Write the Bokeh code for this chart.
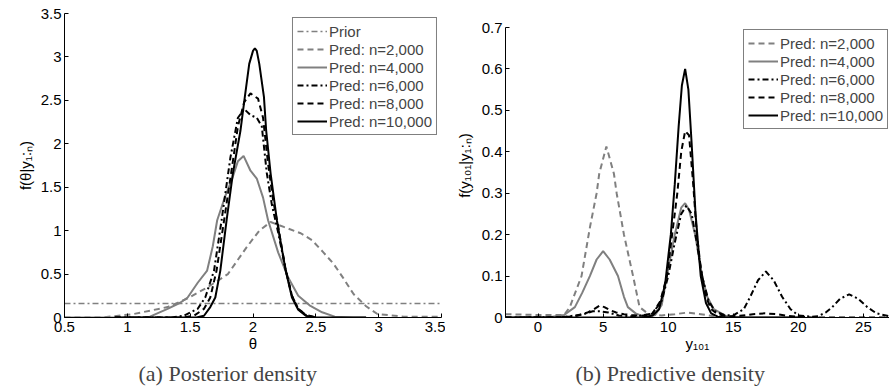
from bokeh.plotting import figure
from bokeh.models import FixedTicker, Title
from bokeh.layouts import row
from bokeh.embed import file_html
from bokeh.resources import INLINE

GRAY = "#808080"
FONT = "Liberation Sans"

# ---------------- Panel (a): posterior density ----------------
a_xticks = [0.5, 1, 1.5, 2, 2.5, 3, 3.5]
a_xlabels = ["0.5", "1", "1.5", "2", "2.5", "3", "3.5"]
a_yticks = [0, 0.5, 1, 1.5, 2, 2.5, 3, 3.5]
a_ylabels = ["0", "0.5", "1", "1.5", "2", "2.5", "3", "3.5"]

prior_theta = [0.5, 3.5]
prior_dens = [0.16, 0.16]

post2_theta = [0.5, 0.8, 1.05, 1.32, 1.48, 1.64, 1.8, 1.95, 2.05, 2.14, 2.25, 2.38, 2.47, 2.56, 2.64, 2.72, 2.8, 2.9, 2.99, 3.2, 3.5]
post2_dens = [0, 0, 0.04, 0.12, 0.22, 0.35, 0.5, 0.81, 1.0, 1.1, 1.04, 0.97, 0.89, 0.75, 0.62, 0.45, 0.27, 0.13, 0.04, 0.01, 0.01]

post4_theta = [0.5, 1.1, 1.18, 1.32, 1.42, 1.48, 1.56, 1.635, 1.68, 1.715, 1.78, 1.835, 1.88, 1.925, 1.98, 2.03, 2.08, 2.12, 2.2, 2.28, 2.36, 2.45, 2.55, 2.65, 2.8, 2.9]
post4_dens = [0, 0, 0.01, 0.1, 0.17, 0.23, 0.4, 0.54, 0.82, 1.12, 1.4, 1.6, 1.8, 1.86, 1.69, 1.6, 1.38, 1.12, 0.75, 0.46, 0.25, 0.14, 0.06, 0.01, 0, 0]

post6_theta = [0.9, 1.35, 1.45, 1.56, 1.62, 1.69, 1.75, 1.82, 1.88, 1.93, 1.98, 2.03, 2.07, 2.11, 2.15, 2.2, 2.26, 2.31, 2.36, 2.42, 2.5]
post6_dens = [0, 0, 0.02, 0.1, 0.23, 0.54, 1.12, 1.84, 2.3, 2.4, 2.33, 2.3, 2.2, 1.66, 1.3, 0.98, 0.55, 0.25, 0.1, 0.03, 0]

post8_theta = [0.9, 1.45, 1.53, 1.61, 1.66, 1.71, 1.77, 1.83, 1.88, 1.93, 1.98, 2.04, 2.08, 2.12, 2.16, 2.2, 2.26, 2.31, 2.36, 2.42, 2.5]
post8_dens = [0, 0, 0.02, 0.1, 0.23, 0.54, 1.12, 1.7, 2.2, 2.48, 2.58, 2.52, 2.3, 1.77, 1.35, 1.05, 0.55, 0.25, 0.1, 0.03, 0]

post10_theta = [0.9, 1.55, 1.61, 1.66, 1.7, 1.74, 1.79, 1.84, 1.9, 1.935, 1.97, 2.0, 2.015, 2.03, 2.05, 2.087, 2.105, 2.14, 2.19, 2.26, 2.31, 2.36, 2.42, 2.48, 2.9]
post10_dens = [0, 0, 0.02, 0.12, 0.23, 0.54, 1.12, 1.66, 2.15, 2.54, 2.92, 3.07, 3.1, 3.07, 2.92, 2.54, 2.15, 1.66, 1.12, 0.54, 0.23, 0.09, 0.02, 0, 0]

# ---------------- Panel (b): predictive density ----------------
b_xticks = [0, 5, 10, 15, 20, 25]
b_xlabels = ["0", "5", "10", "15", "20", "25"]
b_yticks = [0, 0.1, 0.2, 0.3, 0.4, 0.5, 0.6, 0.7]
b_ylabels = ["0", "0.1", "0.2", "0.3", "0.4", "0.5", "0.6", "0.7"]

pred2_y = [-2.5, 0, 2, 2.44, 3.34, 4.0, 4.5, 4.7, 5.25, 5.83, 6.04, 6.6, 7.3, 7.8, 8.5, 9.5, 10.5, 11.5, 12.5, 13.5, 14.5, 16]
pred2_f = [0.008, 0.006, 0.006, 0.025, 0.1, 0.22, 0.3, 0.347, 0.413, 0.347, 0.3, 0.2, 0.1, 0.025, 0.008, 0.005, 0.008, 0.012, 0.008, 0.003, 0, 0]

pred4_y = [-2.5, 1, 2, 2.83, 3.4, 3.98, 4.5, 5.0, 5.5, 6.14, 6.6, 6.9, 7.5, 8.0, 8.5, 9.0, 9.5, 9.9, 10.5, 11.0, 11.3, 11.6, 12.07, 12.6, 13.0, 13.5, 14.5, 16, 20]
pred4_f = [0, 0.001, 0.006, 0.025, 0.06, 0.1, 0.14, 0.16, 0.14, 0.1, 0.05, 0.025, 0.01, 0.004, 0.002, 0.006, 0.03, 0.1, 0.2, 0.265, 0.276, 0.26, 0.2, 0.1, 0.05, 0.02, 0.003, 0, 0]

pred6_y = [-2.5, 2, 3.5, 4.2, 4.8, 5.4, 6.2, 7.5, 8.8, 9.5, 10.0, 10.5, 11.0, 11.4, 11.8, 12.2, 12.6, 13.1, 13.6, 14.3, 15.0, 15.8, 16.3, 16.9, 17.5, 18.1, 18.75, 19.4, 20, 21, 21.5, 22.1, 22.6, 23.2, 23.9, 24.6, 25.3, 26, 27]
pred6_f = [0, 0.001, 0.008, 0.015, 0.015, 0.012, 0.005, 0.002, 0.01, 0.04, 0.1, 0.18, 0.25, 0.27, 0.25, 0.18, 0.1, 0.04, 0.015, 0.006, 0.005, 0.02, 0.05, 0.09, 0.111, 0.09, 0.05, 0.02, 0.005, 0.002, 0.003, 0.012, 0.025, 0.045, 0.056, 0.045, 0.025, 0.01, 0.003]

pred8_y = [-2.5, 2, 3, 3.8, 4.3, 4.75, 5.1, 5.5, 6.0, 6.6, 7.2, 8.0, 8.8, 9.4, 9.9, 10.3, 10.7, 11.0, 11.3, 11.6, 11.9, 12.2, 12.5, 12.9, 13.3, 13.8, 14.5, 15.5, 16.5, 17.45, 18.3, 19.2, 20, 21, 27]
pred8_f = [0, 0.001, 0.004, 0.012, 0.02, 0.029, 0.025, 0.018, 0.012, 0.008, 0.006, 0.004, 0.01, 0.04, 0.1, 0.2, 0.3, 0.4, 0.45, 0.44, 0.33, 0.2, 0.12, 0.05, 0.02, 0.008, 0.003, 0.004, 0.008, 0.01, 0.008, 0.004, 0.002, 0, 0]

pred10_y = [-2.5, 8.0, 8.8, 9.3, 9.76, 10.2, 10.5, 10.8, 11.05, 11.3, 11.55, 11.8, 12.1, 12.5, 12.9, 13.3, 13.8, 14.5, 20]
pred10_f = [0, 0, 0.005, 0.02, 0.08, 0.2, 0.32, 0.46, 0.56, 0.6, 0.55, 0.42, 0.25, 0.1, 0.035, 0.01, 0.002, 0, 0]

DASH = "6 4"
DASHDOT = "6 3 2 3"


def style(p, xticks, xlabels, yticks, ylabels, xlabel, ylabel, ylabel_standoff):
    p.xaxis.ticker = FixedTicker(ticks=xticks)
    p.xaxis.major_label_overrides = dict(zip(xticks, xlabels))
    p.yaxis.ticker = FixedTicker(ticks=yticks)
    p.yaxis.major_label_overrides = dict(zip(yticks, ylabels))
    p.xaxis.axis_label = xlabel
    p.yaxis.axis_label = ylabel
    for ax in (p.xaxis[0], p.yaxis[0]):
        ax.major_tick_in = 4
        ax.major_tick_out = 0
        ax.minor_tick_line_color = None
        ax.axis_line_color = "black"
        ax.major_tick_line_color = "black"
        ax.major_label_text_font = FONT
        ax.major_label_text_font_size = "15px"
        ax.major_label_text_color = "black"
        ax.axis_label_text_font = FONT
        ax.axis_label_text_font_size = "15px"
        ax.axis_label_text_font_style = "normal"
        ax.axis_label_text_color = "black"
    p.xaxis.major_label_standoff = 4
    p.yaxis.major_label_standoff = 3
    p.xaxis.axis_label_standoff = 0
    p.yaxis.axis_label_standoff = ylabel_standoff
    p.xgrid.visible = False
    p.ygrid.visible = False
    p.outline_line_color = None
    lg = p.legend[0]
    lg.border_line_color = "black"
    lg.border_line_width = 1
    lg.background_fill_color = "white"
    lg.background_fill_alpha = 1
    lg.label_text_font = FONT
    lg.label_text_font_size = "15px"
    lg.glyph_width = 30
    lg.glyph_height = 18
    lg.label_height = 18
    lg.label_standoff = 2
    lg.spacing = 0
    lg.padding = 4


pa = figure(width=445, height=392, x_range=(0.5, 3.5), y_range=(0, 3.5),
            output_backend="svg", toolbar_location=None,
            min_border_left=64, min_border_right=4, min_border_top=13, min_border_bottom=75)
pa.title = None
pa.line(prior_theta, prior_dens, color=GRAY, line_width=1.5, line_dash=DASHDOT, legend_label="Prior")
pa.line(post2_theta, post2_dens, color=GRAY, line_width=2, line_dash=DASH, legend_label="Pred: n=2,000")
pa.line(post4_theta, post4_dens, color=GRAY, line_width=2, legend_label="Pred: n=4,000")
pa.line(post6_theta, post6_dens, color="black", line_width=2, line_dash=DASHDOT, legend_label="Pred: n=6,000")
pa.line(post8_theta, post8_dens, color="black", line_width=2, line_dash=DASH, legend_label="Pred: n=8,000")
pa.line(post10_theta, post10_dens, color="black", line_width=2, legend_label="Pred: n=10,000")
style(pa, a_xticks, a_xlabels, a_yticks, a_ylabels, "θ", "f(θ|y₁:ₙ)", 4)
pa.legend.location = "top_right"
pa.legend.margin = 4
pa.add_layout(Title(text="(a) Posterior density", align="left", offset=74,
                    text_font="Liberation Serif", text_font_size="22px",
                    text_font_style="normal", standoff=8), "below")

# frames of the two panels are aligned by the row layout; the top of (b) is
# extended a little so that 0.7 sits where it sits in the reference
pb = figure(width=444, height=392, x_range=(-2.5, 27), y_range=(0, 0.7338),
            output_backend="svg", toolbar_location=None,
            min_border_left=60, min_border_right=0, min_border_top=13, min_border_bottom=75)
pb.title = None
pb.line(pred2_y, pred2_f, color=GRAY, line_width=2, line_dash=DASH, legend_label="Pred: n=2,000")
pb.line(pred4_y, pred4_f, color=GRAY, line_width=2, legend_label="Pred: n=4,000")
pb.line(pred6_y, pred6_f, color="black", line_width=2, line_dash=DASHDOT, legend_label="Pred: n=6,000")
pb.line(pred8_y, pred8_f, color="black", line_width=2, line_dash=DASH, legend_label="Pred: n=8,000")
pb.line(pred10_y, pred10_f, color="black", line_width=2, legend_label="Pred: n=10,000")
style(pb, b_xticks, b_xlabels, b_yticks, b_ylabels, "y₁₀₁", "f(y₁₀₁|y₁:ₙ)", 6)
pb.yaxis.bounds = (0, 0.7)
pb.legend.location = (238, 188)
pb.add_layout(Title(text="(b) Predictive density", align="left", offset=70,
                    text_font="Liberation Serif", text_font_size="22px",
                    text_font_style="normal", standoff=8), "below")

layout = row(pa, pb)
open("out.html", "w").write(file_html(layout, INLINE))
